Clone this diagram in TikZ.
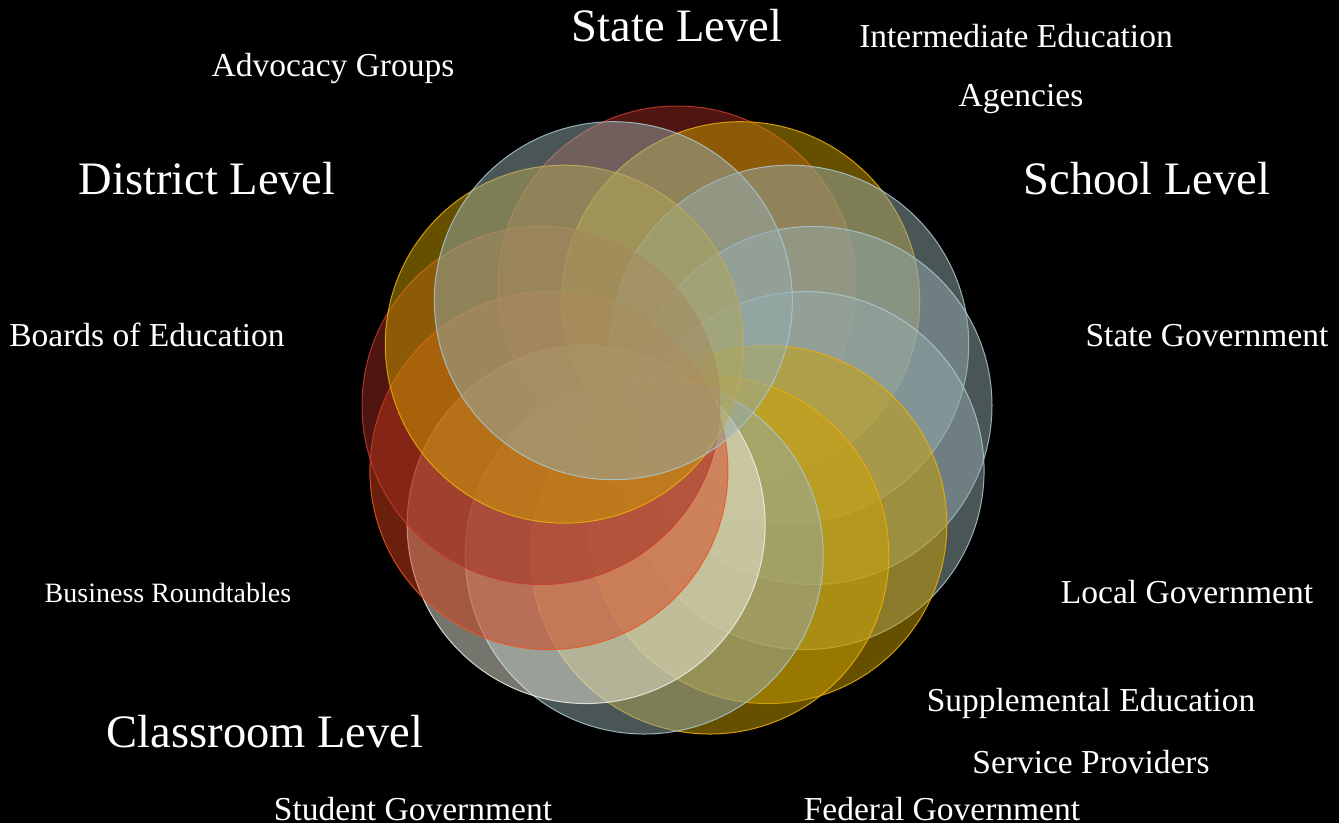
\documentclass[tikz,border=0pt]{standalone}
\usepackage{fontspec}
\setmainfont{Liberation Serif}
\definecolor{cred}{RGB}{158,42,32}
\definecolor{ered}{RGB}{200,60,45}
\definecolor{cgold}{RGB}{204,160,0}
\definecolor{egold}{RGB}{235,175,10}
\definecolor{cslate}{RGB}{148,170,172}
\definecolor{eslate}{RGB}{170,200,210}
\definecolor{corange}{RGB}{212,64,24}
\definecolor{eorange}{RGB}{235,85,35}
\definecolor{cwhite}{RGB}{234,234,218}
\definecolor{ewhite}{RGB}{240,240,230}
\tikzset{
  big/.style={text=white, anchor=base, inner sep=0pt, font=\fontsize{46.5}{50}\selectfont},
  lab/.style={text=white, anchor=base, inner sep=0pt, font=\fontsize{33.5}{38}\selectfont},
  smalllab/.style={text=white, anchor=base, inner sep=0pt, font=\fontsize{28}{32}\selectfont},
  ring/.style={fill opacity=.5, draw opacity=.85, line width=1pt}
}
\begin{document}
\begin{tikzpicture}[x=1pt,y=-1pt]
\fill[black] (0,0) rectangle (1339,823);
\useasboundingbox (0,0) rectangle (1339,823);
\foreach \f/\e [count=\k from 0] in {cred/ered, cgold/egold, cslate/eslate, cslate/eslate, cslate/eslate, cgold/egold, cgold/egold, cslate/eslate, cwhite/ewhite, corange/eorange, cred/ered, cgold/egold, cslate/eslate}{
  \path[ring, fill=\f, draw=\e] ({677+137*cos(90-\k*360/13)},{422-137*sin(90-\k*360/13)}) circle[radius=179pt];
}
\node[big] (state) at (677,41) {State Level};
\node[big] (district) at (207,194) {District Level};
\node[big] (school) at (1147,194) {School Level};
\node[big] (classroom) at (265,747) {Classroom Level};
\node[lab] (interm) at (1016,47) {Intermediate Education};
\node[lab] (agencies) at (1021,106) {Agencies};
\node[lab] (advocacy) at (333,76) {Advocacy Groups};
\node[lab] (boards) at (147,346) {Boards of Education};
\node[lab] (stategov) at (1207,346) {State Government};
\node[smalllab] (business) at (168,602) {Business Roundtables};
\node[lab] (localgov) at (1187,603) {Local Government};
\node[lab] (suppl) at (1091,711) {Supplemental Education};
\node[lab] (service) at (1091,773) {Service Providers};
\node[lab] (student) at (413,820) {Student Government};
\node[lab] (federal) at (942,820) {Federal Government};
\end{tikzpicture}
\end{document}
